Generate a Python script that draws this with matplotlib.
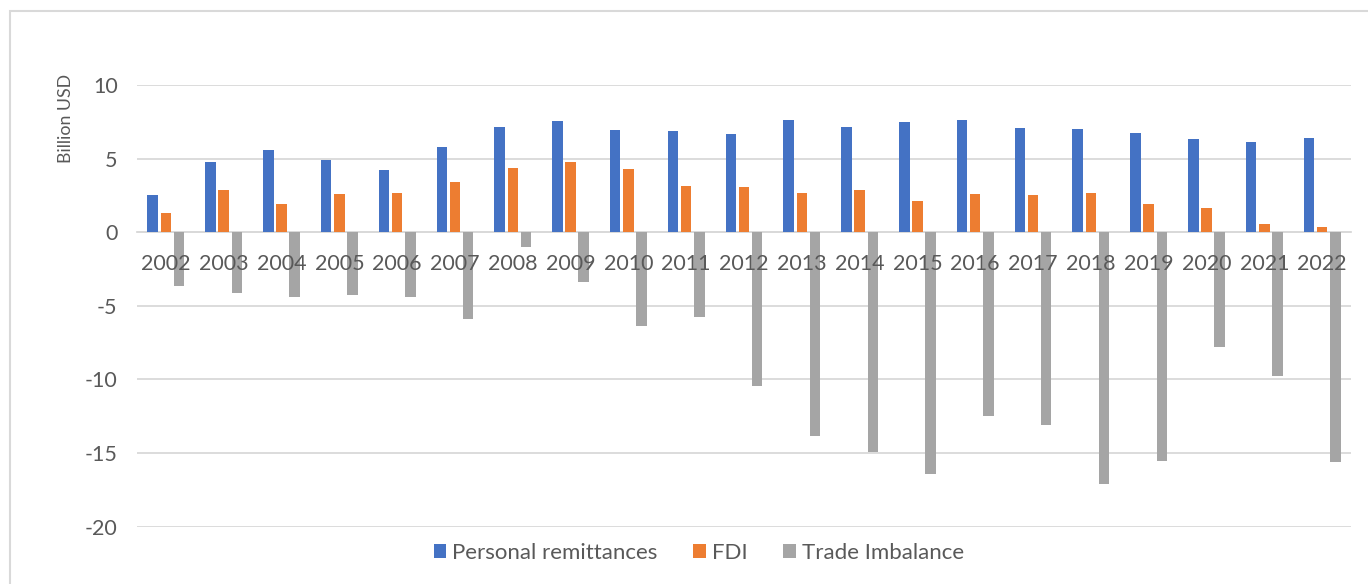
import matplotlib
matplotlib.use("Agg")
import matplotlib.pyplot as plt
import numpy as np
from matplotlib.patches import Rectangle

plt.rcParams['font.family'] = ['Lato', 'DejaVu Sans']

years = [str(y) for y in range(2002, 2023)]
remittances = [2.55, 4.75, 5.57, 4.91, 4.20, 5.77, 7.18, 7.57, 6.91, 6.86, 6.68,
               7.59, 7.18, 7.48, 7.61, 7.07, 7.00, 6.73, 6.30, 6.11, 6.39]
fdi = [1.34, 2.86, 1.91, 2.62, 2.66, 3.38, 4.34, 4.80, 4.27, 3.12, 3.09,
       2.64, 2.84, 2.14, 2.57, 2.50, 2.64, 1.89, 1.62, 0.57, 0.34]
trade = [-3.63, -4.16, -4.43, -4.23, -4.38, -5.90, -1.02, -3.36, -6.38, -5.75, -10.45,
         -13.81, -14.90, -16.40, -12.47, -13.09, -17.08, -15.56, -7.77, -9.79, -15.61]
series_names = ["Personal remittances", "FDI", "Trade Imbalance"]
colors = ["#4472C4", "#ED7D31", "#A5A5A5"]
text_color = "#595959"

fig = plt.figure(figsize=(13.68, 5.84), dpi=100)
# outer chart frame
fig.patches.append(Rectangle((10 / 1368, -0.05), 1.2, (584 - 11) / 584 + 0.05,
                             transform=fig.transFigure, fill=False,
                             edgecolor="#d9d9d9", linewidth=1.5))

ax = fig.add_axes([137 / 1368, (584 - 526.7) / 584, (1351 - 137) / 1368, (526.7 - 85) / 584])

x = np.arange(len(years))
slot = 0.228
width = 0.182
for i, (vals, name, c) in enumerate(zip([remittances, fdi, trade], series_names, colors)):
    ax.bar(x + (i - 1) * slot, vals, width=width, color=c, label=name, zorder=2)

ax.set_xlim(-0.5, len(years) - 0.5)
ax.set_ylim(-20, 10)
ax.set_yticks([10, 5, 0, -5, -10, -15, -20])
ax.set_yticklabels(["10", "5", "0", "-5", "-10", "-15", "-20"])
ax.grid(axis='y', color="#d9d9d9", linewidth=1.3)
ax.set_axisbelow(True)

for s in ['top', 'right', 'left']:
    ax.spines[s].set_visible(False)
ax.spines['bottom'].set_position(('data', 0))
ax.spines['bottom'].set_color("#d9d9d9")
ax.spines['bottom'].set_linewidth(1.3)
ax.spines['bottom'].set_zorder(0.5)

ax.set_xticks(x)
ax.set_xticklabels(years)
ax.tick_params(axis='x', length=0, pad=16, labelsize=15.5, labelcolor=text_color)
ax.tick_params(axis='y', length=0, pad=14, labelsize=15.5, labelcolor=text_color)
# year labels sit on top of the downward bars
ax.xaxis.set_zorder(4)

fig.text(66 / 1368, 1 - 118 / 584, "Billion USD", rotation=90, ha='center', va='center',
         fontsize=12.8, color=text_color)

leg = fig.legend(loc='center', bbox_to_anchor=(699 / 1368, 1 - 553 / 584), ncol=3,
                 frameon=False, fontsize=16, handlelength=0.55, handleheight=0.55,
                 handletextpad=0.3, columnspacing=1.6)
for t in leg.get_texts():
    t.set_color(text_color)

fig.savefig("out.png", dpi=100)
